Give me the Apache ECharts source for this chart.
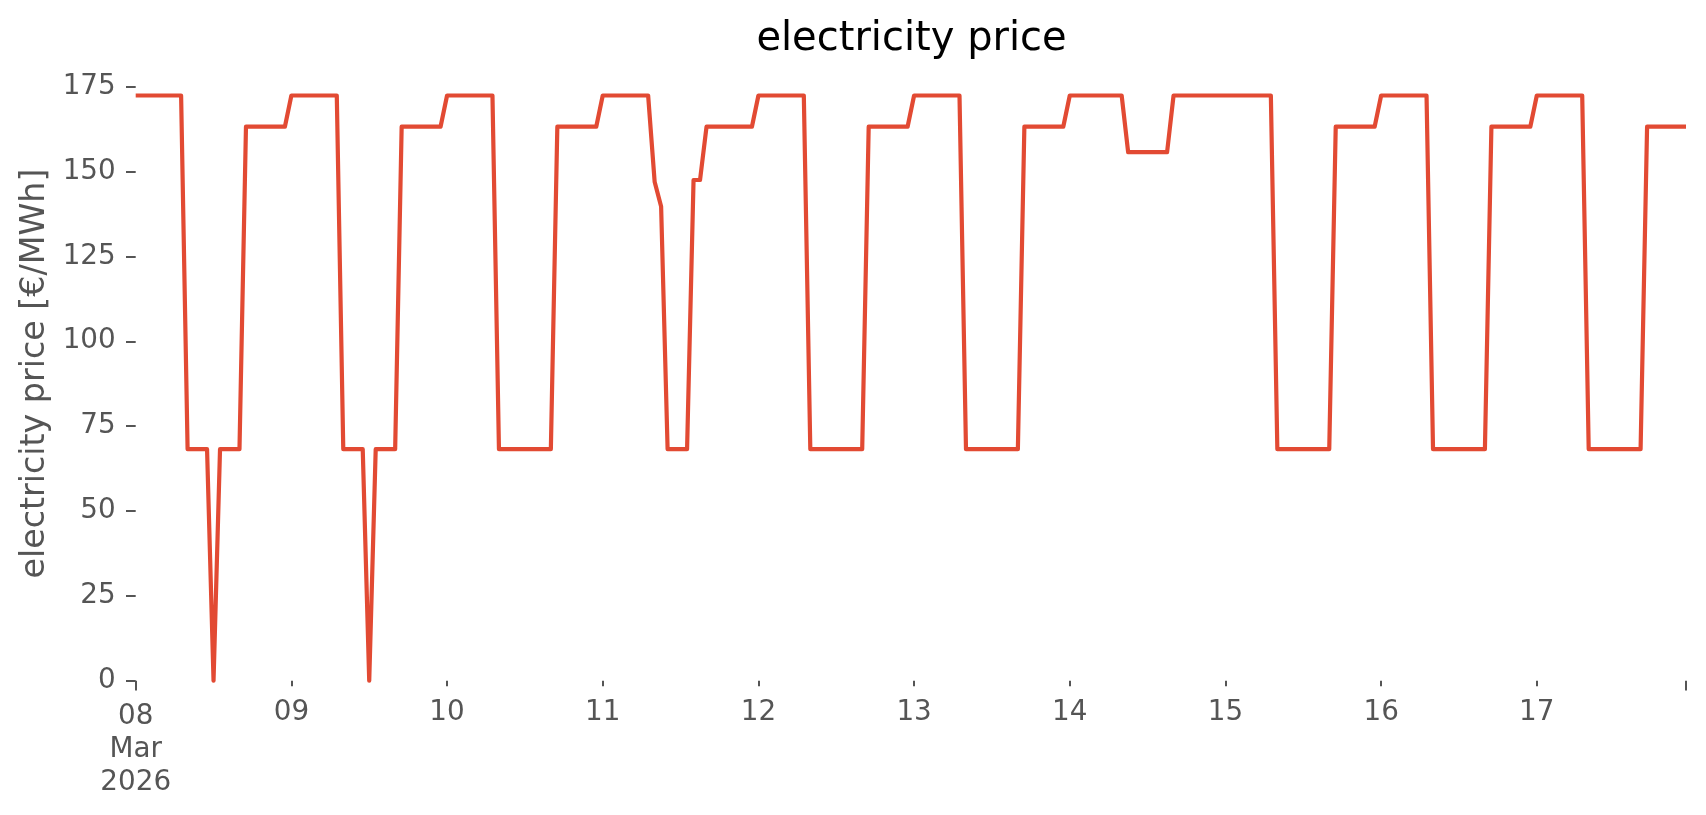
<!DOCTYPE html>
<html><head><meta charset="utf-8">
<script src="https://cdn.jsdelivr.net/npm/echarts@6/dist/echarts.min.js"></script>
<style>html,body{margin:0;padding:0;background:#fff}#c{width:1706px;height:815px}</style>
</head><body><div id="c"></div>
<script>
// Day tick labels (start of each day, 08 Mar 2026 .. 17 Mar 2026)
const dayLabels = ['08', '09', '10', '11', '12', '13', '14', '15', '16', '17'];
const firstLabel = '08\nMar\n2026';
const yTicks = [0, 25, 50, 75, 100, 125, 150, 175];

// Hourly electricity price [€/MWh], one array per day (hours 00..23)
const d08 = [172.4,172.4,172.4,172.4,172.4,172.4,172.4,172.4, 68.2,68.2,68.2,68.2, 0, 68.2,68.2,68.2,68.2, 163.2,163.2,163.2,163.2,163.2,163.2,163.2];
const d09 = [172.4,172.4,172.4,172.4,172.4,172.4,172.4,172.4, 68.2,68.2,68.2,68.2, 0, 68.2,68.2,68.2,68.2, 163.2,163.2,163.2,163.2,163.2,163.2,163.2];
const d10 = [172.4,172.4,172.4,172.4,172.4,172.4,172.4,172.4, 68.2,68.2,68.2,68.2,68.2,68.2,68.2,68.2,68.2, 163.2,163.2,163.2,163.2,163.2,163.2,163.2];
const d11 = [172.4,172.4,172.4,172.4,172.4,172.4,172.4,172.4, 147.0, 139.7, 68.2,68.2,68.2,68.2, 147.5,147.5, 163.2,163.2,163.2,163.2,163.2,163.2,163.2,163.2];
const d12 = [172.4,172.4,172.4,172.4,172.4,172.4,172.4,172.4, 68.2,68.2,68.2,68.2,68.2,68.2,68.2,68.2,68.2, 163.2,163.2,163.2,163.2,163.2,163.2,163.2];
const d13 = [172.4,172.4,172.4,172.4,172.4,172.4,172.4,172.4, 68.2,68.2,68.2,68.2,68.2,68.2,68.2,68.2,68.2, 163.2,163.2,163.2,163.2,163.2,163.2,163.2];
const d14 = [172.4,172.4,172.4,172.4,172.4,172.4,172.4,172.4,172.4, 155.7,155.7,155.7,155.7,155.7,155.7,155.7, 172.4,172.4,172.4,172.4,172.4,172.4,172.4,172.4];
const d15 = [172.4,172.4,172.4,172.4,172.4,172.4,172.4,172.4, 68.2,68.2,68.2,68.2,68.2,68.2,68.2,68.2,68.2, 163.2,163.2,163.2,163.2,163.2,163.2,163.2];
const d16 = [172.4,172.4,172.4,172.4,172.4,172.4,172.4,172.4, 68.2,68.2,68.2,68.2,68.2,68.2,68.2,68.2,68.2, 163.2,163.2,163.2,163.2,163.2,163.2,163.2];
const d17 = [172.4,172.4,172.4,172.4,172.4,172.4,172.4,172.4, 68.2,68.2,68.2,68.2,68.2,68.2,68.2,68.2,68.2, 163.2,163.2,163.2,163.2,163.2,163.2,163.2];

const prices = [].concat(d08, d09, d10, d11, d12, d13, d14, d15, d16, d17);
const seriesData = prices.map((v, i) => [i, v]);
const lastHour = prices.length - 1;
const dayStarts = dayLabels.map((_, k) => k * 24);
const minorStarts = dayStarts.slice(1);

const FONT = 'DejaVu Sans';
const GREY = '#555555';

const chart = echarts.init(document.getElementById('c'), null, {renderer: 'canvas'});
chart.setOption({
  animation: false,
  backgroundColor: '#ffffff',
  title: {
    text: 'electricity price',
    left: 756.4,
    top: 20,
    padding: 0,
    textStyle: {fontFamily: FONT, fontSize: 40, fontWeight: 'normal', color: '#000000', lineHeight: 40}
  },
  grid: {left: 135.7, right: 20, top: 66.4, bottom: 134.3, containLabel: false},
  xAxis: [{
    type: 'value', min: 0, max: lastHour,
    axisLine: {show: false},
    splitLine: {show: false},
    axisTick: {show: true, length: 5.6, lineStyle: {color: GREY, width: 2}, customValues: minorStarts},
    axisLabel: {
      show: true, margin: 15, customValues: minorStarts,
      fontFamily: FONT, fontSize: 27.8, color: GREY, lineHeight: 33.4,
      formatter: v => dayLabels[Math.round(v / 24)]
    }
  }, {
    type: 'value', min: 0, max: lastHour, position: 'bottom',
    axisLine: {show: false},
    splitLine: {show: false},
    axisTick: {show: true, length: 9.7, lineStyle: {color: GREY, width: 2}, customValues: [0, lastHour]},
    axisLabel: {
      show: true, margin: 19, customValues: [0], showMinLabel: true,
      fontFamily: FONT, fontSize: 27.8, color: GREY, lineHeight: 33.4,
      formatter: v => firstLabel
    }
  }],
  yAxis: {
    type: 'value', min: 0, max: 180.97,
    name: 'electricity price [€/MWh]',
    nameLocation: 'middle', nameGap: 81.5,
    nameTextStyle: {fontFamily: FONT, fontSize: 33.3, color: GREY, lineHeight: 33.3},
    axisLine: {show: false},
    splitLine: {show: false},
    axisTick: {show: true, length: 9.7, lineStyle: {color: GREY, width: 2}, customValues: yTicks},
    axisLabel: {show: true, margin: 20, customValues: yTicks, fontFamily: FONT, fontSize: 27.8, color: GREY, padding: [5, 0, 0, 0]}
  },
  series: [{
    type: 'line',
    xAxisIndex: 0,
    data: seriesData,
    showSymbol: false,
    symbol: 'none',
    clip: false,
    lineStyle: {color: '#E24A33', width: 4.2, join: 'round', cap: 'butt'}
  }]
});
</script>
</body></html>
